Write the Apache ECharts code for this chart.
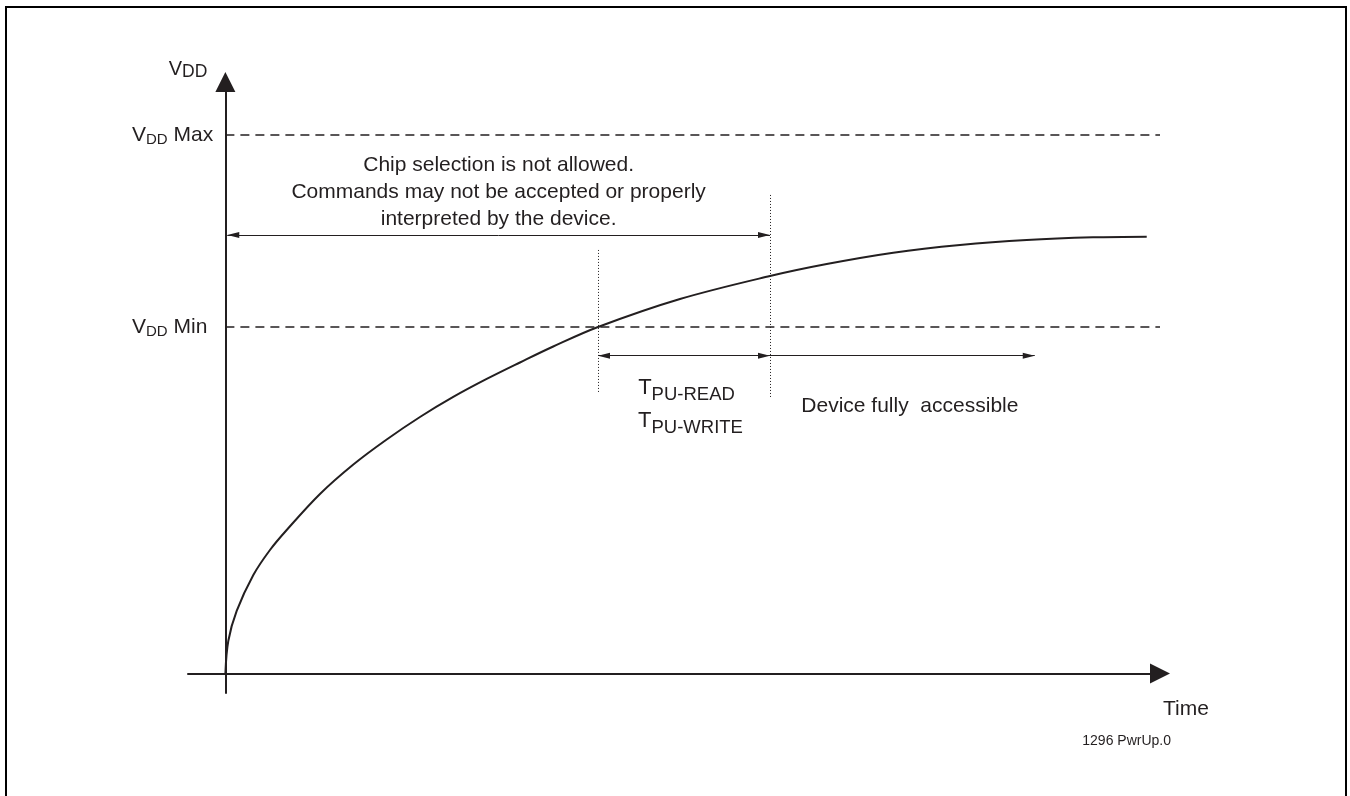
<!DOCTYPE html>
<html>
<head>
<meta charset="utf-8">
<script src="https://cdn.jsdelivr.net/npm/echarts@6/dist/echarts.min.js"></script>
<style>
html,body{margin:0;padding:0;background:#fff;overflow:hidden;}
#chart{width:1350px;height:796px;}
#frame{position:absolute;left:5px;top:6px;width:1342px;height:790px;border:2px solid #000;border-bottom:none;box-sizing:border-box;pointer-events:none;}
</style>
</head>
<body>
<div id="chart"></div>
<div id="frame"></div>
<script>
const INK = '#231f20';
const FONT = "'Liberation Sans', Arial, Helvetica, sans-serif";

// Power-up curve (time in arbitrary units, VDD in arbitrary units)
const timeData = [0, 0.31, 1.21, 2.99, 4.77, 6.56, 10.12, 13.69, 17.26, 20.82, 24.38, 27.96, 31.52, 35.08, 39.87, 48.64, 58.27, 64.34, 71.46, 78.60, 85.74, 92.83, 98.58];
const vddData  = [0, 5.49, 10.57, 16.65, 20.88, 24.26, 30.35, 35.33, 39.56, 43.36, 46.75, 49.79, 52.58, 55.28, 58.58, 63.31, 67.20, 69.23, 71.14, 72.44, 73.29, 73.74, 73.85];

// Axis extents
const xRange = [-4, 100];
const yRange = [-3.3, 100];

// VDD reference levels
const vddLevels = [91.0, 58.6];
const vddLevelNames = ['Max', 'Min'];

// Dotted timing markers
const markerTimes = [39.87, 58.27];
const markerTops = [71.6, 81.06];
const markerBottoms = [47.6, 46.75];

// Arrow spans
const noAccessSpan = [0.2, 58.27];
const noAccessLevel = 74.13;
const puSpan = [39.87, 58.27];
const accessSpan = [58.27, 86.6];
const spanLevel = 53.73;

// Texts
const noteLines = ['Chip selection is not allowed.', 'Commands may not be accepted or properly', 'interpreted by the device.'];
const accessText = 'Device fully  accessible';
const figureId = '1296 PwrUp.0';

const curve = timeData.map((t, i) => [t, vddData[i]]);

const vRich = {
  m: {fontSize: 21, lineHeight: 24, fontFamily: FONT, color: INK},
  s: {fontSize: 15, lineHeight: 10, verticalAlign: 'bottom', fontFamily: FONT, color: INK}
};

function head(coord) {
  return {coord: coord, symbol: 'triangle', symbolSize: [6, 12], symbolOffset: [0, 6]};
}
function plain(coord) {
  return {coord: coord, symbol: 'none'};
}

const arrowCommon = {
  silent: true,
  symbol: ['triangle', 'triangle'],
  lineStyle: {type: 'solid', width: 1, color: INK},
  itemStyle: {color: INK},
  emphasis: {disabled: true}
};

const option = {
  animation: false,
  backgroundColor: '#ffffff',
  textStyle: {fontFamily: FONT, color: INK},
  title: {
    text: figureId, right: 179, top: 734, padding: 0,
    textStyle: {fontSize: 14, fontWeight: 'normal', color: INK, fontFamily: FONT, lineHeight: 14}
  },
  grid: {left: 188, right: 190, top: 82, bottom: 103, containLabel: false},
  xAxis: {
    type: 'value', min: xRange[0], max: xRange[1],
    name: 'Time', nameLocation: 'end', nameGap: 3,
    nameTextStyle: {fontSize: 21, lineHeight: 24, color: INK, fontFamily: FONT, align: 'left', verticalAlign: 'top', padding: [24, 0, 0, 0]},
    axisLine: {onZero: true, symbol: ['none', 'triangle'], symbolSize: [20, 20], lineStyle: {color: INK, width: 2}},
    axisTick: {show: false}, axisLabel: {show: false}, splitLine: {show: false}
  },
  yAxis: {
    type: 'value', min: yRange[0], max: yRange[1],
    name: '{m|V}{n|DD}', nameLocation: 'end', nameGap: 13,
    nameTextStyle: {
      align: 'right', verticalAlign: 'middle', padding: [0, 18, 0, 0],
      rich: {
        m: {fontSize: 20, lineHeight: 24, fontFamily: FONT, color: INK},
        n: {fontSize: 17.5, lineHeight: 12, verticalAlign: 'bottom', fontFamily: FONT, color: INK}
      }
    },
    axisLine: {onZero: true, symbol: ['none', 'triangle'], symbolSize: [20, 20], lineStyle: {color: INK, width: 2}},
    axisTick: {show: false},
    axisLabel: {
      show: true, customValues: vddLevels, align: 'left', verticalAlign: 'middle', margin: 56,
      formatter: function (v) {
        const i = vddLevels.indexOf(v);
        return '{m|V}{s|DD}{m| ' + (i >= 0 ? vddLevelNames[i] : '') + '}';
      },
      rich: vRich
    },
    splitLine: {show: false}
  },
  series: [
    {
      name: 'VDD', type: 'line', data: curve, smooth: 0.35,
      showSymbol: false, symbol: 'none', silent: true, z: 5,
      lineStyle: {color: INK, width: 2}
    },
    {
      name: 'levels', type: 'line', data: [],
      markLine: {
        silent: true, symbol: ['none', 'none'], label: {show: false}, emphasis: {disabled: true},
        lineStyle: {type: [9, 6], width: 1.5, color: INK},
        data: vddLevels.map(v => [{coord: [0, v]}, {coord: [xRange[1], v]}])
      }
    },
    {
      name: 'markers', type: 'line', data: [],
      markLine: {
        silent: true, symbol: ['none', 'none'], label: {show: false}, emphasis: {disabled: true},
        lineStyle: {type: [1, 2], width: 1, color: INK},
        data: markerTimes.map((t, i) => [{coord: [t, markerBottoms[i]]}, {coord: [t, markerTops[i]]}])
      }
    },
    {
      name: 'noAccess', type: 'line', data: [],
      markLine: Object.assign({}, arrowCommon, {
        label: {
          show: true, position: 'insideMiddleTop', distance: 2,
          formatter: () => noteLines.join('\n'),
          fontSize: 21, lineHeight: 27, color: INK, fontFamily: FONT, align: 'center'
        },
        data: [[head([noAccessSpan[0], noAccessLevel]), head([noAccessSpan[1], noAccessLevel])]]
      })
    },
    {
      name: 'pu', type: 'line', data: [],
      markLine: Object.assign({}, arrowCommon, {
        label: {
          show: true, position: 'insideMiddleBottom', distance: 16, padding: [0, 0, 0, 13],
          formatter: () => '{T|T}{r|PU-READ}\n{T|T}{w|PU-WRITE}',
          rich: {
            T: {fontSize: 22, lineHeight: 33, fontFamily: FONT, color: INK},
            r: {fontSize: 18.5, lineHeight: 18.6, verticalAlign: 'bottom', padding: [0, 8, 0, 0], fontFamily: FONT, color: INK},
            w: {fontSize: 18.5, lineHeight: 18.6, verticalAlign: 'bottom', fontFamily: FONT, color: INK}
          }
        },
        data: [[head([puSpan[0], spanLevel]), head([puSpan[1], spanLevel])]]
      })
    },
    {
      name: 'access', type: 'line', data: [],
      markLine: Object.assign({}, arrowCommon, {
        label: {
          show: true, position: 'insideMiddleBottom', distance: 39, padding: [0, 0, 0, 15],
          formatter: () => accessText,
          fontSize: 21, lineHeight: 24, color: INK, fontFamily: FONT
        },
        data: [[plain([accessSpan[0], spanLevel]), head([accessSpan[1], spanLevel])]]
      })
    }
  ]
};

const chart = echarts.init(document.getElementById('chart'));
chart.setOption(option);
</script>
</body>
</html>
